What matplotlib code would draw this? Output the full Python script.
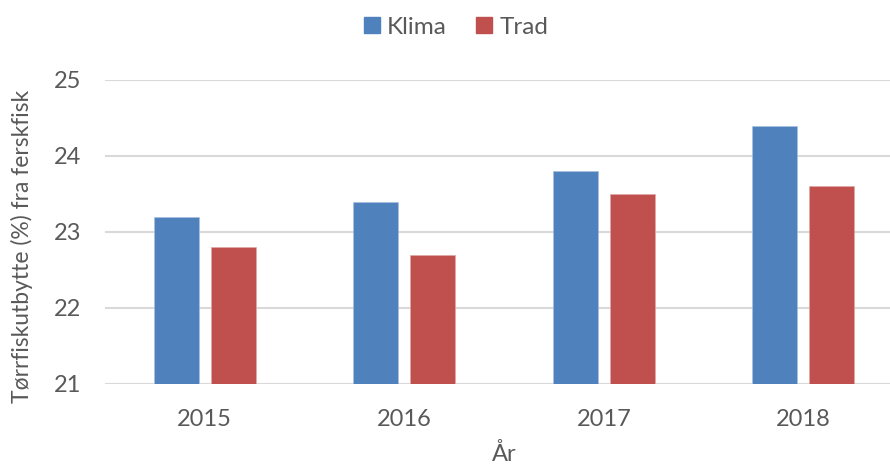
import matplotlib
matplotlib.use("Agg")
import matplotlib.pyplot as plt
from matplotlib.patches import Patch
import numpy as np

years = ["2015", "2016", "2017", "2018"]
klima = [23.2, 23.4, 23.8, 24.4]
trad = [22.8, 22.7, 23.5, 23.6]
series_names = ["Klima", "Trad"]
yticks = [21, 22, 23, 24, 25]

plt.rcParams['font.family'] = ['Lato', 'DejaVu Sans']
W, H = 890, 467
fig = plt.figure(figsize=(W / 100, H / 100), dpi=100)
ax = fig.add_axes([105 / W, (H - 384) / H, (903 - 105) / W, (384 - 80) / H])

blue = "#4F81BD"
red = "#C0504D"
txt = "#595959"

x = np.arange(len(years))
bw = 0.226
off = 0.1425
ax.bar(x - off, klima, bw, color=blue, edgecolor="#a9c1e0", linewidth=0.5, zorder=3)
ax.bar(x + off, trad, bw, color=red, edgecolor="#e0a9a7", linewidth=0.5, zorder=3)

ax.set_xlim(-0.5, 3.5)
ax.set_ylim(21, 25)
ax.set_yticks(yticks)
ax.set_xticks(x)
ax.set_xticklabels(years)
ax.grid(axis='y', color="#D9D9D9", linewidth=1.5, zorder=0)
for s in ax.spines.values():
    s.set_visible(False)
ax.tick_params(axis='both', length=0, labelsize=17, labelcolor=txt)
ax.tick_params(axis='y', pad=17)
ax.tick_params(axis='x', pad=18)

fig.text(22 / W, 1 - 246 / H, "Tørrfiskutbytte (%) fra ferskfisk", rotation=90,
         ha='center', va='center', fontsize=16.5, color=txt)
fig.text(504 / W, 6 / H, "År", ha='center', va='baseline', fontsize=17, color=txt)

handles = [Patch(color=blue), Patch(color=red)]
fig.legend(handles, series_names, loc='center', bbox_to_anchor=(456 / W, 1 - 27 / H),
           ncol=2, frameon=False, fontsize=17.5, labelcolor=txt,
           handlelength=0.65, handleheight=0.65, handletextpad=0.3, columnspacing=1.2)

fig.savefig("out.png", dpi=100)
